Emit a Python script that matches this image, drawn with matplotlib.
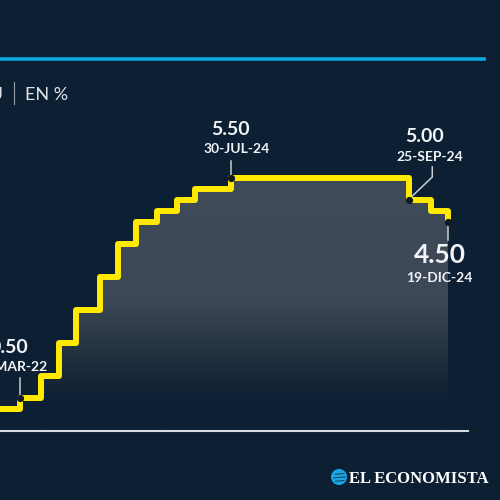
import numpy as np
import matplotlib
matplotlib.use("Agg")
import matplotlib.pyplot as plt
import matplotlib.dates as mdates
from matplotlib.colors import LinearSegmentedColormap
from matplotlib.patches import Circle
import datetime as dt

# ---------------- data ----------------
dates = ["2022-01-01", "2022-03-16", "2022-05-04", "2022-06-15", "2022-07-27",
         "2022-09-21", "2022-11-02", "2022-12-14", "2023-02-01", "2023-03-22",
         "2023-05-03", "2023-07-26", "2024-09-18", "2024-11-07", "2024-12-18"]
rates = [0.25, 0.50, 1.00, 1.75, 2.50, 3.25, 4.00, 4.50, 4.75, 5.00,
         5.25, 5.50, 5.00, 4.75, 4.50]

# annotated points: index into the series, value label, date label
ann_idx = [1, 11, 12, 14]
ann_value = ["0.50", "5.50", "5.00", "4.50"]
ann_date = ["16-MAR-22", "30-JUL-24", "25-SEP-24", "19-DIC-24"]

title_text = "TASA DE FONDOS FEDERALES EN EU"
unit_text = "EN %"
logo_text = "EL ECONOMISTA"

# ---------------- style ----------------
BG = "#0c1f33"
YELLOW = "#ffea00"
BLUE = "#0ea7e2"
TXT = "#f2f4f6"
LEADER = "#c9ced4"

x = np.array([mdates.date2num(dt.datetime.strptime(d, "%Y-%m-%d")) for d in dates])
y = np.array(rates)

fig = plt.figure(figsize=(5, 5), dpi=100, facecolor=BG)
ax = fig.add_axes([0, 0, 1, 1], facecolor=BG)
base = x[1]
XL = (base - 47.1, base + 1130.7)
YL = (-1.818, 9.545)
ax.set_xlim(*XL)
ax.set_ylim(*YL)
ax.axis("off")

# gradient fill under the step line
poly = ax.fill_between(x, y, -0.6, step="post", color="none", lw=0)
cmap = LinearSegmentedColormap.from_list(
    "g", [(0.0, BG), (0.152, BG), (0.281, "#1c2a3b"), (0.39, "#2a3745"),
          (0.537, "#3c4856"), (1.0, "#3f4b59")])
grad = np.linspace(0, 1, 256).reshape(-1, 1)
im = ax.imshow(grad, cmap=cmap, aspect="auto", origin="lower",
               extent=[x[0] - 60, x[-1], -0.6, 5.6], zorder=1)
im.set_clip_path(poly.get_paths()[0], transform=ax.transData)
ax.set_xlim(*XL)
ax.set_ylim(*YL)

# step line
ax.plot(x, y, drawstyle="steps-post", color=YELLOW, lw=4.3,
        solid_joinstyle="round", solid_capstyle="butt", zorder=3)

# markers
ax.plot(x[ann_idx], y[ann_idx], "o", color="#141a22", ms=4.2, zorder=4)

# annotations (offsets in pixels)
val_off = [(-11, 45), (0, 43), (15, 58), (-8, -41)]
date_off = [(-10, 27), (6, 25), (21, 39), (-9, -60)]
val_size = [14, 14, 14, 19]
leaders = [[(0, 2), (0, 20)], [(0, 2), (0, 17)], [(1, 2), (23, 23), (23, 33)], [(0, -3), (0, -18)]]

for k, i in enumerate(ann_idx):
    px, py = ax.transData.transform((x[i], y[i]))
    ax.annotate(ann_value[k], xy=(x[i], y[i]), xytext=val_off[k], textcoords="offset pixels",
                ha="center", va="baseline", color=TXT, fontsize=val_size[k],
                fontweight="bold", family="Lato", zorder=5)
    ax.annotate(ann_date[k], xy=(x[i], y[i]), xytext=date_off[k], textcoords="offset pixels",
                ha="center", va="baseline", color=TXT, fontsize=10,
                fontweight="bold", family="Lato", zorder=5)
    pts = np.array([(px + dx, py + dy) for dx, dy in leaders[k]])
    dpts = ax.transData.inverted().transform(pts)
    ax.plot(dpts[:, 0], dpts[:, 1], color=LEADER, lw=1.1, zorder=2.5)

# baseline and top rule (figure furniture)
fig.add_artist(plt.Line2D([0, 468 / 500], [1 - 431 / 500] * 2, color="#d8dce1", lw=1.5))
fig.add_artist(plt.Line2D([0, 484 / 500], [1 - 58.5 / 500] * 2, color=BLUE, lw=2.6))

# title bits
fig.text(3.5 / 500, 1 - 100 / 500, title_text, ha="right", va="baseline",
         color="#dfe3e8", fontsize=13, family="Lato")
fig.add_artist(plt.Line2D([13.5 / 500] * 2, [1 - 82 / 500, 1 - 104 / 500], color="#9aa3ad", lw=0.8))
fig.text(25 / 500, 1 - 100 / 500, unit_text, ha="left", va="baseline",
         color="#dfe3e8", fontsize=13, family="Lato")

# logo
fig.text(349 / 500, 1 - 483 / 500, logo_text, ha="left", va="baseline",
         color="white", fontsize=12, family="Liberation Serif", fontweight="bold")
gx, gy = 339 / 500, 1 - 477 / 500
fig.add_artist(Circle((gx, gy), 7.3 / 500, transform=fig.transFigure, color="#1aa6e4"))
for dy, w in [(-3.5, 5), (0, 6.5), (3.5, 5)]:
    fig.add_artist(plt.Line2D([gx - w / 500 + 1.5 / 500, gx + w / 500], [gy + dy / 500 - 0.8 / 500, gy + dy / 500],
                              color=BG, lw=0.8, alpha=0.7))

fig.savefig("out.png", dpi=100, facecolor=BG)
